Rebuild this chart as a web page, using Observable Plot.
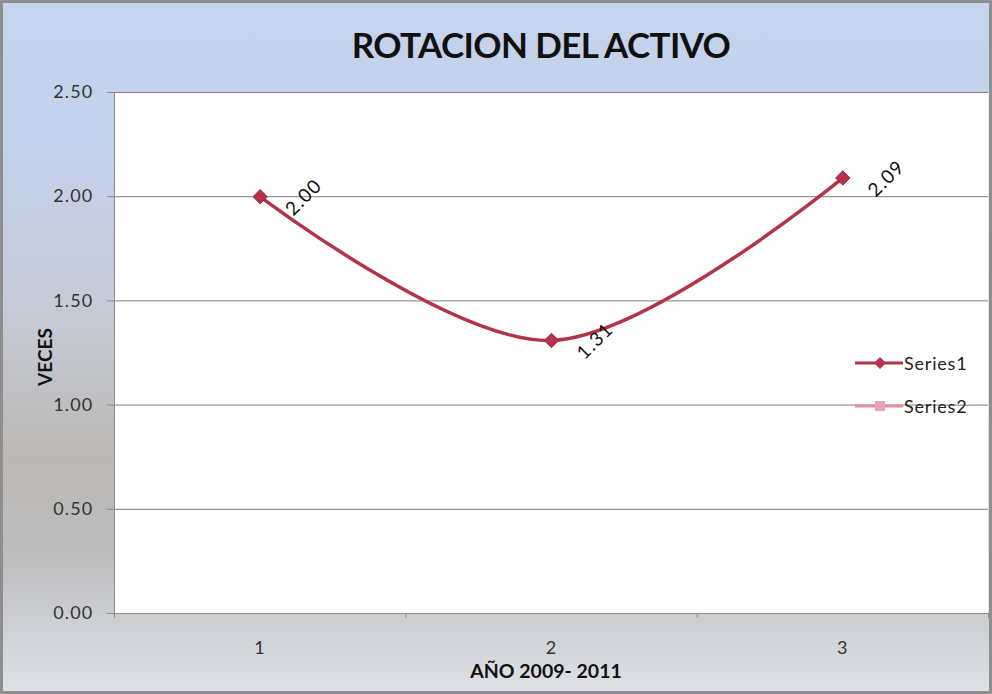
<!DOCTYPE html>
<html>
<head>
<meta charset="utf-8">
<script src="https://cdn.jsdelivr.net/npm/d3@7"></script>
<script src="https://cdn.jsdelivr.net/npm/@observablehq/plot@0.6"></script>
<style>
  html, body { margin: 0; padding: 0; }
  body { width: 992px; height: 694px; overflow: hidden; font-family: Lato, "Open Sans", sans-serif; }
  #chart {
    position: relative; width: 992px; height: 694px; box-sizing: border-box;
    border: 3px solid #8e8e8e;
    background: linear-gradient(to bottom, #c5d3ed 0%, #c4d1ea 22%, #c5cad6 45%, #bcb9b4 66%, #bdbdbe 80%, #cfd2d7 92%, #dee1e6 100%);
  }
  #chart > svg { position: absolute; left: -3px; top: -3px; max-width: none; }
  .title { position: absolute; left: 0; width: 1076px; top: 20px; text-align: center; font-weight: 700; font-size: 35px; color: #111; letter-spacing: -0.6px; }
  .ytitle { position: absolute; left: 41px; top: 354px; transform: translate(-50%, -50%) rotate(-90deg); font-weight: 700; font-size: 19px; color: #111; white-space: nowrap; }
  .xtitle { position: absolute; left: 543px; top: 656px; transform: translateX(-50%); font-weight: 700; font-size: 19.5px; color: #111; white-space: nowrap; }
  .legend { position: absolute; left: 850px; top: 338px; font-size: 18px; letter-spacing: 0.8px; color: #222; }
  .legend .row { display: flex; align-items: center; height: 43px; }
  .legend .row svg { margin-right: 1px; }
</style>
</head>
<body>
<div id="chart">
  <div class="title">ROTACION DEL ACTIVO</div>
  <div class="ytitle">VECES</div>
  <div class="xtitle">AÑO 2009- 2011</div>
</div>
<script>
// Activity turnover per year (2009–2011)
const years = [1, 2, 3];
const series1 = [2.00, 1.31, 2.09];
const series2 = [];
const yTicks = [0, 0.5, 1.0, 1.5, 2.0, 2.5];
const seriesNames = ["Series1", "Series2"];
const seriesColors = ["#b3334a", "#e58aa6"];

const rows = years.map((year, i) => ({year, value: series1[i]}));
const rows2 = series2.map((v, i) => ({year: years[i], value: v}));

const chart = Plot.plot({
  width: 992,
  height: 694,
  marginLeft: 114,
  marginRight: 4,
  marginTop: 92,
  marginBottom: 81,
  style: {background: "transparent", fontFamily: "Lato, 'Open Sans', sans-serif", fontSize: "18px", color: "#222", letterSpacing: "1.2px"},
  x: {type: "linear", domain: [0.5, 3.5]},
  y: {domain: [0, 2.5]},
  marks: [
    Plot.frame({fill: "white", stroke: "none"}),
    Plot.gridY(yTicks, {stroke: "#7f7f7f", strokeOpacity: 1, strokeWidth: 1}),
    Plot.ruleX([0.5], {stroke: "#8a8a8a"}),
    Plot.ruleY([0], {stroke: "#8a8a8a"}),
    Plot.axisY({ticks: yTicks, tickFormat: d3.format(".2f"), tickSize: 7, tickPadding: 14, stroke: "#8a8a8a", label: null, fill: "#333"}),
    Plot.axisX({ticks: [0.5, 1.5, 2.5, 3.5], tickFormat: () => "", tickSize: 5, stroke: "#8a8a8a", label: null}),
    Plot.axisX({ticks: years, tickFormat: d3.format("d"), tickSize: 0, tickPadding: 28, label: null, fill: "#333"}),
    Plot.line(rows2, {x: "year", y: "value", stroke: seriesColors[1], strokeWidth: 3}),
    Plot.line(rows, {x: "year", y: "value", stroke: seriesColors[0], strokeWidth: 3.5, curve: "cardinal"}),
    Plot.dot(rows, {x: "year", y: "value", symbol: "diamond2", r: 6.5, fill: seriesColors[0], stroke: "#9c2a40", strokeWidth: 1}),
    Plot.text(rows, {x: "year", y: "value", text: d => d.value.toFixed(2), rotate: -45, textAnchor: "start", lineAnchor: "bottom", dx: 33, dy: 20, fill: "#111", fontSize: 19})
  ]
});
document.getElementById("chart").appendChild(chart);

// Legend entries, drawn beside the plot
const legend = document.createElement("div");
legend.className = "legend";
seriesNames.forEach((name, i) => {
  const row = document.createElement("div");
  row.className = "row";
  const sw = d3.create("svg").attr("width", 50).attr("height", 14);
  sw.append("line").attr("x1", 2).attr("x2", 50).attr("y1", 7).attr("y2", 7)
    .attr("stroke", seriesColors[i]).attr("stroke-width", 3);
  if (i === 0) {
    sw.append("path").attr("transform", "translate(27,7)")
      .attr("d", d3.symbol(d3.symbolDiamond2, 90)()).attr("fill", seriesColors[i]);
  } else {
    sw.append("rect").attr("x", 22).attr("y", 2).attr("width", 10).attr("height", 10)
      .attr("fill", "#e9a3b8");
  }
  row.appendChild(sw.node());
  const label = document.createElement("span");
  label.textContent = name;
  row.appendChild(label);
  legend.appendChild(row);
});
document.getElementById("chart").appendChild(legend);
</script>
</body>
</html>
